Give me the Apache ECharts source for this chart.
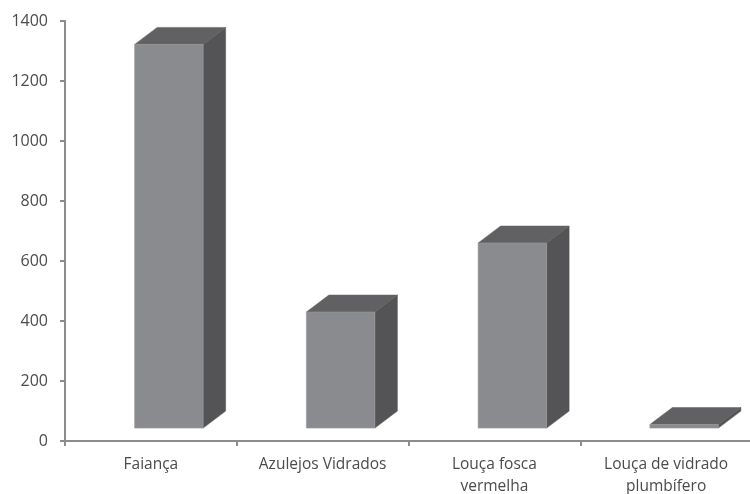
<!DOCTYPE html>
<html>
<head>
<meta charset="utf-8">
<style>html,body{margin:0;padding:0;background:#fff}#c{width:750px;height:494px}</style>
<script src="https://cdn.jsdelivr.net/npm/echarts@6/dist/echarts.min.js"></script>
</head>
<body>
<div id="c"></div>
<script>
const categories = ['Faiança', 'Azulejos Vidrados', 'Louça fosca\nvermelha', 'Louça de vidrado\nplumbífero'];
const values = [1322, 430, 660, 55];
const floorValue = 43;
const yTicks = {min: 0, max: 1400, interval: 200};

const chart = echarts.init(document.getElementById('c'), null, {renderer: 'canvas'});
const AX = '#8b8c8e', TXT = '#4b4b4d';
const SHIFT = 18, W = 68.5, DX = 22.5, DY = 17;

function poly(points, fill, stroke) {
  return {type: 'polygon', shape: {points}, style: {fill, stroke: stroke || fill, lineWidth: 0.5}};
}
function renderItem(params, api) {
  const top = api.coord([api.value(0), api.value(1)]);
  const bottom = api.coord([api.value(0), floorValue]);
  const xl = top[0] + SHIFT - W / 2, xr = xl + W, yt = top[1], yb = bottom[1];
  return {type: 'group', children: [
    poly([[xr, yt], [xr + DX, yt - DY], [xr + DX, yb - DY], [xr, yb]], '#545456'),
    poly([[xl, yt], [xl + DX, yt - DY], [xr + DX, yt - DY], [xr, yt]], '#616163'),
    {type: 'rect', shape: {x: xl, y: yt, width: W, height: yb - yt},
     style: {fill: '#8a8b8e', stroke: '#9a9b9d', lineWidth: 0.6}}
  ]};
}
chart.setOption({
  animation: false,
  backgroundColor: '#fff',
  grid: {left: 65, top: 21, width: 687, height: 420, containLabel: false, outerBoundsMode: 'none'},
  xAxis: {
    type: 'category', data: categories, boundaryGap: true,
    axisLine: {lineStyle: {color: AX, width: 2}},
    axisTick: {show: true, length: 5, alignWithLabel: false, lineStyle: {color: AX, width: 2}},
    axisLabel: {color: TXT, fontFamily: 'Open Sans', fontSize: 15.5, margin: 13, lineHeight: 22, interval: 0, hideOverlap: false}
  },
  yAxis: {
    type: 'value', min: yTicks.min, max: yTicks.max, interval: yTicks.interval,
    splitLine: {show: false},
    axisLine: {show: true, lineStyle: {color: AX, width: 2}},
    axisTick: {show: true, length: 5, lineStyle: {color: AX, width: 2}},
    axisLabel: {color: TXT, fontFamily: 'Open Sans', fontSize: 16, margin: 17, formatter: v => String(v)}
  },
  series: [{
    type: 'custom', renderItem, clip: false,
    encode: {x: 0, y: 1},
    data: values.map((v, i) => [i, v])
  }]
});
</script>
</body>
</html>
